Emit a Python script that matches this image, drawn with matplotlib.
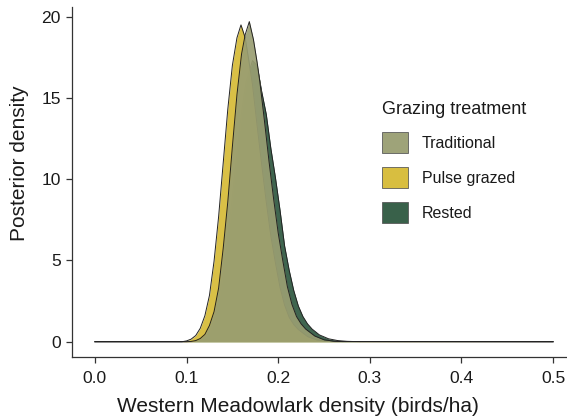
import matplotlib
matplotlib.use("Agg")
import matplotlib.pyplot as plt
from matplotlib.patches import Patch

plt.rcParams['font.family'] = ['Liberation Sans', 'DejaVu Sans']

# Posterior density curves (x in birds/ha, y = density)
trad_x = [0.000, 0.100, 0.105, 0.110, 0.115, 0.120, 0.125, 0.130, 0.135, 0.140,
          0.145, 0.150, 0.155, 0.160, 0.164, 0.1685, 0.173, 0.177, 0.180, 0.185,
          0.190, 0.195, 0.200, 0.205, 0.210, 0.215, 0.220, 0.225, 0.230, 0.240,
          0.250, 0.260, 0.270, 0.500]
trad_y = [0.0, 0.0, 0.02, 0.07, 0.2, 0.45, 1.0, 1.85, 3.3, 5.75,
          8.6, 12.0, 15.2, 17.7, 18.9, 19.7, 18.6, 17.2, 16.0, 13.6,
          11.1, 8.8, 6.7, 5.0, 3.4, 2.3, 1.55, 1.1, 0.78, 0.35,
          0.12, 0.04, 0.01, 0.0]

pulse_x = [0.000, 0.095, 0.100, 0.105, 0.110, 0.115, 0.120, 0.125, 0.130, 0.135,
           0.140, 0.145, 0.150, 0.155, 0.1594, 0.164, 0.168, 0.172, 0.177, 0.182,
           0.187, 0.192, 0.197, 0.202, 0.207, 0.212, 0.217, 0.222, 0.232, 0.242,
           0.252, 0.262, 0.500]
pulse_y = [0.0, 0.0, 0.05, 0.16, 0.38, 0.83, 1.6, 2.85, 4.95, 7.7,
           11.0, 14.3, 17.0, 18.7, 19.5, 18.7, 17.3, 15.8, 13.3, 10.9,
           8.6, 6.5, 4.85, 3.35, 2.25, 1.5, 1.05, 0.75, 0.32, 0.11,
           0.04, 0.01, 0.0]

rest_x = [0.000, 0.105, 0.110, 0.115, 0.120, 0.125, 0.130, 0.135, 0.140, 0.145,
          0.150, 0.155, 0.160, 0.165, 0.172, 0.177, 0.182, 0.187, 0.192, 0.197,
          0.202, 0.207, 0.212, 0.217, 0.222, 0.227, 0.232, 0.237, 0.245, 0.255,
          0.265, 0.275, 0.290, 0.500]
rest_y = [0.0, 0.0, 0.02, 0.08, 0.25, 0.6, 1.3, 2.5, 4.2, 6.4,
          8.9, 11.6, 14.1, 16.0, 17.3, 17.0, 15.4, 14.0, 11.9, 10.1,
          8.1, 5.9, 4.4, 3.15, 2.2, 1.55, 1.1, 0.78, 0.42, 0.18,
          0.07, 0.025, 0.0, 0.0]

labels = ['Traditional', 'Pulse grazed', 'Rested']
colors = {'Traditional': '#999e72', 'Pulse grazed': '#d6bb36', 'Rested': '#2e5840'}

x_ticks = [0.0, 0.1, 0.2, 0.3, 0.4, 0.5]
y_ticks = [0, 5, 10, 15, 20]

W, H = 567, 419
fig = plt.figure(figsize=(W / 100, H / 100), dpi=100)
ax = fig.add_axes([72 / W, 1 - 357 / H, 504 / W, 350 / H])

# draw order: rested, pulse, then traditional on top (nearly opaque fills)
series = [('Rested', rest_x, rest_y),
          ('Pulse grazed', pulse_x, pulse_y),
          ('Traditional', trad_x, trad_y)]
for i, (name, xs, ys) in enumerate(series):
    ax.fill_between(xs, 0, ys, color=colors[name], alpha=0.92, linewidth=0, zorder=2 + 2 * i)
    ax.plot(xs, ys, color='#222222', linewidth=0.7, zorder=3 + 2 * i)

ax.set_xlim(-0.025, 0.525)
ax.set_ylim(-0.94, 20.6)
ax.set_xticks(x_ticks)
ax.set_xticklabels([f"{v:.1f}" for v in x_ticks])
ax.set_yticks(y_ticks)

for s in ['top', 'right']:
    ax.spines[s].set_visible(False)
for s in ['left', 'bottom']:
    ax.spines[s].set_color('#333333')
    ax.spines[s].set_linewidth(0.9)
ax.tick_params(axis='both', direction='out', length=4, width=0.9, color='#333333',
               labelsize=12.6, labelcolor='#1a1a1a')
ax.tick_params(axis='x', pad=6)
ax.tick_params(axis='y', pad=4)

ax.set_xlabel('Western Meadowlark density (birds/ha)', fontsize=15, color='#1a1a1a', va='center')
ax.xaxis.set_label_coords(0.448, -0.14)
ax.set_ylabel('Posterior density', fontsize=15, color='#1a1a1a', va='center')
ax.yaxis.set_label_coords(-0.105, 0.553)

handles = [Patch(facecolor=colors[n], edgecolor='#555555', linewidth=0.6, alpha=0.95) for n in labels]
leg = ax.legend(handles, labels, title='Grazing treatment', frameon=False,
                loc='upper left', bbox_to_anchor=(374 / W, 1 - 93 / H),
                bbox_transform=fig.transFigure, fontsize=11.5, title_fontsize=13,
                handlelength=1.6, handleheight=1.67, labelspacing=0.86,
                handletextpad=0.9, borderpad=0, alignment='left')
for t in leg.get_texts():
    t.set_color('#1a1a1a')
leg.get_title().set_color('#1a1a1a')

fig.savefig('out.png', dpi=100)
